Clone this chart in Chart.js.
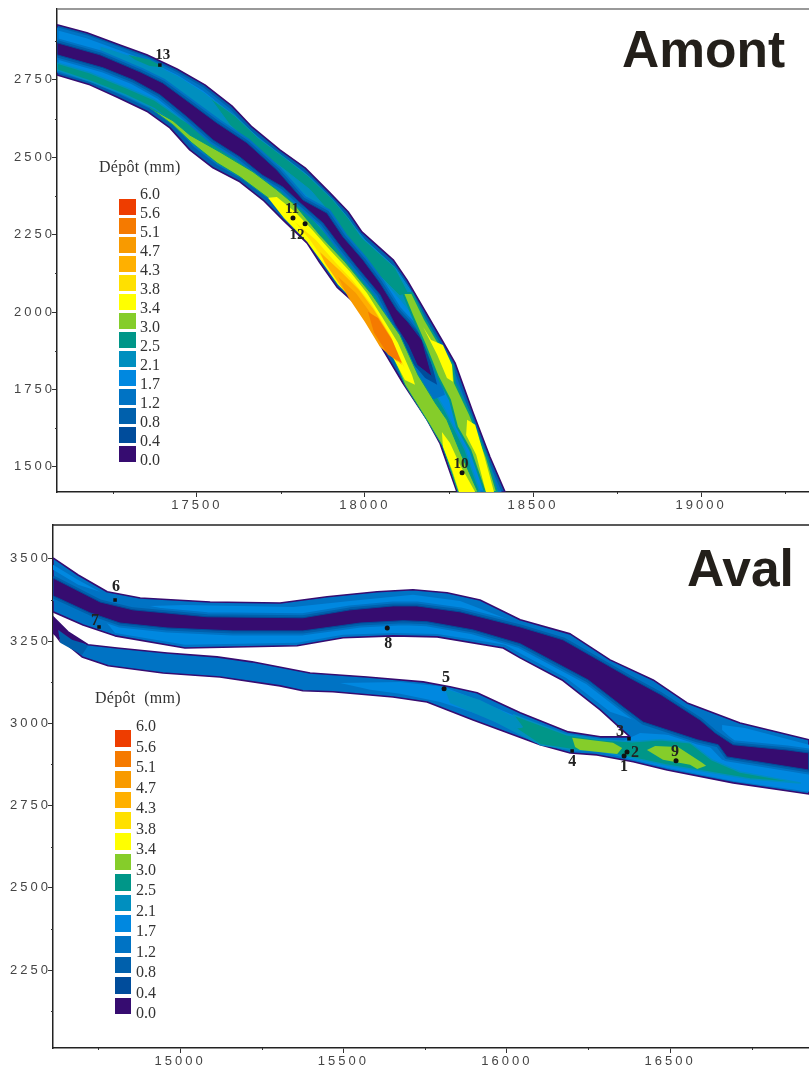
<!DOCTYPE html>
<html>
<head>
<meta charset="utf-8">
<title>Dépôt Amont / Aval</title>
<script src="https://cdn.jsdelivr.net/npm/chart.js@4/dist/chart.umd.js"></script>
<style>
  html, body { margin: 0; padding: 0; background: #fff; overflow: hidden; }
  #page { position: relative; width: 809px; height: 1068px; overflow: hidden; }
  canvas { position: absolute; left: 0; }
  .big { position: absolute; font: bold 51.5px "Liberation Sans", sans-serif; line-height: 1; color: #231f1a; }
  .legtitle { position: absolute; font: 16px "Liberation Serif", serif; letter-spacing: 0.3px; color: #333; white-space: pre; }
  .leglabel { position: absolute; font: 16px "Liberation Serif", serif; line-height: 16px; color: #333; }
  .swatch { position: absolute; }
</style>
</head>
<body>
<div id="page">
  <canvas id="amont" width="813" height="515" style="top:0"></canvas>
  <canvas id="aval" width="813" height="553" style="top:515px"></canvas>
</div>
<script>
// legend
const legendLabels = ['6.0','5.6','5.1','4.7','4.3','3.8','3.4','3.0','2.5','2.1','1.7','1.2','0.8','0.4','0.0'];
const legendColors = ['#ee3d00','#f57a00','#f89a00','#ffb000','#ffe000','#ffff00','#85cd2a','#009688','#008fbf','#0088e0','#0073c4','#0060ac','#004c9b','#360c70'];

// axes
const amontXTicks = [17500, 18000, 18500, 19000];
const amontXMinor = [17250, 17750, 18250, 18750, 19250];
const amontYTicks = [1500, 1750, 2000, 2250, 2500, 2750];
const amontYMinor = [1625, 1875, 2125, 2375, 2625, 2875];
const avalXTicks = [15000, 15500, 16000, 16500];
const avalXMinor = [14750, 15250, 15750, 16250, 16750];
const avalYTicks = [2250, 2500, 2750, 3000, 3250, 3500];
const avalYMinor = [2125, 2375, 2625, 2875, 3125, 3375];

// stations
const amontNames = ['13', '11', '12', '10'];
const amontStationX = [17390, 17786, 17822, 18289];
const amontStationY = [2798, 2304, 2285, 1481];
const avalNames = ['1', '2', '3', '4', '5', '6', '7', '8', '9'];
const avalStationX = [16359, 16368, 16374, 16200, 15808, 14801, 14752, 15634, 16518];
const avalStationY = [2901, 2913, 2953, 2916, 3105, 3375, 3293, 3290, 2886];

// Amont contours, [x, y] in site metres
const amontBanks = [[17084,2928],[17173,2902],[17271,2863],[17351,2831],[17441,2785],[17524,2734],[17604,2666],[17664,2598],[17747,2524],[17822,2466],[17896,2385],[17950,2324],[17991,2259],[18084,2169],[18125,2104],[18229,1910],[18268,1836],[18322,1674],[18372,1532],[18417,1419],
  [18274,1419],[18223,1577],[18185,1652],[18113,1771],[18054,1878],[18006,1975],[17976,2023],[17917,2081],[17866,2159],[17828,2223],[17756,2298],[17697,2362],[17628,2421],[17548,2466],[17479,2524],[17420,2595],[17354,2647],[17262,2695],[17182,2734],[17084,2766]];
const amontLight = [[17084,2915],[17173,2889],[17271,2850],[17351,2818],[17435,2773],[17518,2721],[17596,2653],[17655,2585],[17738,2511],[17813,2453],[17887,2372],[17938,2311],[17979,2246],[18072,2156],[18113,2091],[18217,1901],[18256,1826],[18310,1668],[18360,1526],[18402,1419],
  [18289,1419],[18238,1584],[18200,1658],[18128,1778],[18069,1884],[18021,1981],[17991,2033],[17932,2091],[17881,2169],[17843,2233],[17771,2308],[17712,2372],[17643,2430],[17563,2479],[17494,2537],[17435,2608],[17366,2660],[17271,2708],[17188,2747],[17084,2779]];
const amontUpperCyan = [[17212,2860],[17360,2808],[17444,2763],[17524,2708],[17604,2637],[17673,2566],[17762,2492],[17837,2434],[17911,2353],[17956,2291],[18000,2233],[18090,2143],[18134,2072],[18179,1975],[18200,1910],
  [18104,2039],[18030,2130],[17941,2233],[17896,2298],[17822,2379],[17747,2453],[17658,2530],[17584,2601],[17494,2679],[17405,2744],[17301,2795],[17212,2840]];
const amontUpperTealA = [[17295,2831],[17360,2815],[17405,2789],[17360,2795],[17316,2815]];
const amontUpperTealB = [[17539,2692],[17613,2634],[17682,2563],[17762,2498],[17831,2440],[17905,2362],[17950,2304],[17991,2240],[18090,2143],[18128,2065],[18104,2052],[18021,2143],[17956,2211],[17920,2291],[17837,2395],[17762,2459],[17673,2530],[17598,2605]];
const amontRightGreen = [[18113,2062],[18140,2062],[18179,1975],[18223,1894],[18262,1829],[18268,1771],[18313,1668],[18363,1529],[18393,1419],[18357,1419],[18313,1555],[18274,1629],[18253,1716],[18217,1791],[18179,1894],[18140,1991]];
const amontRightYellowA = [[18173,1952],[18197,1910],[18232,1894],[18259,1829],[18262,1775],[18244,1787],[18215,1862]];
const amontRightYellowB = [[18304,1652],[18328,1636],[18354,1539],[18384,1419],[18360,1419],[18331,1539],[18301,1603]];
const amontLowerTeal = [[17084,2805],[17182,2773],[17292,2724],[17375,2685],[17450,2627],[17509,2588],[17593,2530],[17688,2466],[17762,2404],[17807,2346],[17881,2259],[17941,2185],[18015,2088],[18090,1975],[18149,1846],[18194,1765],[18238,1684],[18298,1555],[18342,1419],
  [18298,1419],[18253,1571],[18215,1636],[18140,1765],[18081,1878],[18030,1975],[18000,2030],[17941,2088],[17890,2169],[17851,2233],[17777,2304],[17717,2369],[17643,2430],[17569,2482],[17494,2543],[17435,2608],[17375,2656],[17286,2702],[17188,2744],[17084,2782]];
const amontLowerGreen = [[17360,2660],[17429,2618],[17479,2572],[17569,2517],[17667,2453],[17738,2395],[17792,2346],[17866,2249],[17941,2162],[18021,2056],[18104,1926],[18158,1797],[18209,1707],[18244,1652],[18283,1549],[18336,1419],
  [18277,1419],[18232,1565],[18188,1645],[18119,1765],[18075,1878],[18027,1975],[17997,2027],[17938,2088],[17887,2169],[17848,2233],[17771,2308],[17712,2369],[17628,2437],[17560,2482],[17485,2547],[17429,2605]];
const amontYellowA = [[17712,2369],[17738,2372],[17792,2324],[17843,2266],[17896,2201],[17956,2130],[18006,2062],[18051,1984],[18098,1901],[18140,1797],[18149,1765],[18119,1781],[18075,1871],[18021,1959],[17979,2023],[17920,2088],[17872,2162],[17828,2227],[17759,2304]];
const amontYellowB = [[18229,1613],[18253,1577],[18283,1506],[18328,1419],[18280,1419],[18259,1490],[18232,1565]];
const amontGold = [[17792,2291],[17854,2233],[17911,2162],[17962,2104],[18021,2023],[18075,1926],[18119,1819],[18090,1871],[18039,1942],[17991,2017],[17935,2081],[17881,2162],[17837,2233]];
const amontAmber = [[17866,2194],[17929,2130],[17982,2072],[18027,2007],[18078,1917],[18110,1829],[18069,1871],[18021,1949],[17979,2020],[17932,2078],[17881,2159]];
const amontOrange = [[17920,2114],[17973,2062],[18021,1991],[18069,1910],[18098,1839],[18045,1887],[18000,1968],[17950,2049]];
const amontDeepOrange = [[18009,2001],[18039,1981],[18081,1910],[18110,1836],[18069,1862],[18027,1933]];
const amontBlobOuter = [[18113,2001],[18188,1926],[18238,1733],[18200,1716],[18149,1797],[18095,1910]];
const amontBlobInner = [[18119,1981],[18179,1910],[18215,1765],[18179,1787],[18134,1846],[18104,1910]];
const amontChannel = [[17084,2870],[17212,2831],[17331,2776],[17399,2740],[17479,2676],[17560,2611],[17649,2547],[17738,2459],[17816,2362],[17887,2320],[17935,2243],[17994,2169],[18045,2094],[18095,2007],[18128,1968],[18170,1910],[18200,1791],
  [18155,1829],[18128,1894],[18090,1959],[18045,2056],[17976,2146],[17920,2223],[17875,2288],[17807,2353],[17756,2404],[17694,2443],[17628,2501],[17548,2556],[17471,2630],[17390,2702],[17310,2750],[17221,2789],[17084,2831]];

// Aval contours
const avalBanks = [[14611,3503],[14688,3451],[14777,3400],[14878,3381],[15092,3369],[15306,3366],[15450,3385],[15603,3400],[15713,3406],[15817,3397],[15918,3375],[16041,3315],[16194,3272],[16316,3193],[16448,3132],[16552,3062],[16714,3001],[16925,2950],
  [16925,2785],[16693,2819],[16491,2858],[16387,2883],[16276,2904],[16194,2910],[16102,2935],[15980,2980],[15897,3010],[15756,3065],[15652,3080],[15468,3096],[15376,3099],[15306,3114],[15122,3141],[14948,3153],[14780,3175],[14700,3202],[14611,3275],
  [14611,3324],[14657,3278],[14718,3239],[14807,3229],[14960,3214],[15113,3202],[15220,3187],[15398,3153],[15572,3141],[15744,3126],[15826,3111],[15909,3093],[16041,3032],[16188,2974],[16286,2959],[16377,2959],
  [16286,3041],[16169,3132],[16041,3199],[15989,3229],[15787,3263],[15652,3266],[15499,3260],[15358,3236],[15015,3229],[14801,3266],[14703,3299],[14611,3339]];
const avalNorthUpper = [[14908,3357],[15015,3360],[15346,3354],[15520,3372],[15713,3391],[15857,3372],[16041,3302],[16286,3181],[16439,3102],[16506,3062],[16439,3071],[16163,3223],[15857,3315],[15673,3339],[15367,3299],[15015,3335]];
const avalNorthLower = [[14755,3330],[14960,3284],[15376,3299],[15683,3321],[16041,3266],[16286,3102],[16408,3004],[16316,3035],[16182,3138],[16050,3208],[15995,3239],[15787,3272],[15652,3275],[15499,3269],[15358,3245],[15015,3239],[14801,3275]];
const avalUpperWedge = [[14611,3482],[14688,3436],[14755,3400],[14688,3421],[14611,3467]];
const avalSouthDark = [[14627,3284],[14663,3260],[14718,3236],[14700,3208],[14633,3245]];
const avalSouthPurple = [[14611,3324],[14657,3278],[14718,3239],[14669,3254],[14627,3284],[14633,3245],[14611,3275]];
const avalSouthLight = [[15490,3123],[15673,3126],[15805,3111],[15888,3080],[16041,3016],[16178,2962],[16071,2956],[15918,3026],[15796,3065],[15673,3090],[15582,3102]];
const avalSouthCyan = [[15811,3105],[15918,3071],[16041,3010],[16178,2959],[16163,2931],[16087,2941],[15964,3004],[15826,3062],[15817,3087]];
const avalJoinLight = [[16408,2971],[16592,2959],[16659,2889],[16925,2846],[16925,2792],[16693,2825],[16491,2864],[16387,2889],[16286,2913]];
const avalTeal = [[16019,3026],[16184,2965],[16286,2950],[16384,2944],[16469,2950],[16561,2941],[16628,2889],[16714,2852],[16898,2819],[16745,2831],[16485,2874],[16387,2895],[16286,2916],[16209,2919],[16102,2935],[16025,2986],[16047,2989]];
const avalGreenWest = [[16200,2956],[16325,2941],[16353,2925],[16338,2907],[16224,2919],[16209,2928]];
const avalGreenEast = [[16429,2919],[16454,2931],[16524,2928],[16598,2880],[16610,2871],[16583,2861],[16561,2874],[16478,2889]];
const avalRightLight = [[16659,2995],[16729,2986],[16925,2935],[16925,2919],[16858,2928],[16699,2944],[16659,2980]];
const avalChannel = [[14611,3442],[14755,3369],[14856,3345],[15083,3324],[15376,3321],[15520,3345],[15652,3357],[15725,3357],[15857,3339],[16041,3293],[16172,3254],[16377,3138],[16472,3087],[16592,3010],[16638,2971],[16693,2935],[16858,2919],[16925,2910],
  [16925,2858],[16674,2898],[16647,2935],[16583,2950],[16417,3004],[16356,3050],[16249,3132],[16041,3242],[15897,3284],[15756,3309],[15683,3312],[15551,3305],[15376,3281],[15162,3281],[14960,3290],[14816,3305],[14724,3336],[14611,3388]];

const C = { purple:'#360c70', b04:'#004c9b', b08:'#0060ac', b12:'#0073c4', b17:'#0088e0', b21:'#008fbf',
  teal:'#009688', green:'#85cd2a', yellow:'#ffff00', gold:'#ffe000', amber:'#ffb000', orange:'#f89a00', deep:'#f57a00' };

function poly(points, color, stroke, width) {
  return {
    data: points.concat([points[0]]).map(function(p) { return {x: p[0], y: p[1]} }),
    showLine: true,
    fill: 'shape',
    backgroundColor: color,
    borderColor: stroke || color,
    borderWidth: width || 0,
    borderJoinStyle: 'round',
    pointRadius: 0
  }
}

function stations(names, xs, ys, squares) {
  return {
    data: names.map(function(n, i) { return {x: xs[i], y: ys[i]} }),
    showLine: false,
    backgroundColor: '#111',
    borderWidth: 0,
    pointRadius: 2.5,
    pointStyle: function(ctx) { return squares.indexOf(names[ctx.dataIndex]) >= 0 ? 'rect' : 'circle' }
  }
}

// bottom to top, Chart.js paints the first dataset last so the list is reversed below
const amontLayers = [
  poly(amontBanks, C.b08, C.purple, 1.6),
  poly(amontLight, C.b17, C.b12, 3),
  poly(amontUpperCyan, C.b21, C.b17, 1),
  poly(amontUpperTealA, C.teal),
  poly(amontUpperTealB, C.teal, C.b21, 1),
  poly(amontLowerTeal, C.teal, C.b21, 1.5),
  poly(amontBlobOuter, C.b12),
  poly(amontChannel, C.b12, C.b12, 9),
  poly(amontChannel, C.b08, C.b08, 5),
  poly(amontBlobInner, C.b04),
  poly(amontChannel, C.purple, C.b04, 1),
  poly(amontRightGreen, C.green, C.teal, 2),
  poly(amontLowerGreen, C.green, C.teal, 1),
  poly(amontYellowA, C.yellow),
  poly(amontYellowB, C.yellow),
  poly(amontRightYellowA, C.yellow),
  poly(amontRightYellowB, C.yellow),
  poly(amontGold, C.gold),
  poly(amontAmber, C.amber),
  poly(amontOrange, C.orange),
  poly(amontDeepOrange, C.deep),
  stations(amontNames, amontStationX, amontStationY, ['13'])
];

const avalLayers = [
  poly(avalBanks, C.b12, C.purple, 1.6),
  poly(avalNorthUpper, C.b17),
  poly(avalNorthLower, C.b17),
  poly(avalUpperWedge, C.b17),
  poly(avalSouthDark, C.b08),
  poly(avalSouthPurple, C.purple),
  poly(avalSouthLight, C.b17),
  poly(avalSouthCyan, C.b21),
  poly(avalJoinLight, C.b17),
  poly(avalRightLight, C.b17),
  poly(avalChannel, C.b12, C.b12, 9),
  poly(avalChannel, C.b08, C.b08, 5),
  poly(avalChannel, C.purple, C.b04, 1),
  poly(avalTeal, C.teal, C.b21, 1.5),
  poly(avalGreenWest, C.green),
  poly(avalGreenEast, C.green),
  stations(avalNames, avalStationX, avalStationY, ['3', '4', '6', '7'])
];

// wide tick text, minor ticks, top frame line and the numbers next to the stations
const mapExtras = {
  id: 'mapExtras',
  beforeLayout: function(chart) {
    chart.ctx.letterSpacing = '3px';
  },
  beforeDraw: function(chart) {
    chart.ctx.letterSpacing = '3px';
  },
  afterDatasetsDraw: function(chart, args, opts) {
    const ctx = chart.ctx, area = chart.chartArea, x = chart.scales.x, y = chart.scales.y;
    ctx.save();
    ctx.letterSpacing = '0px';
    ctx.strokeStyle = '#333';
    ctx.lineWidth = 1;
    opts.minorX.forEach(function(v) {
      const px = Math.round(x.getPixelForValue(v)) + 0.5;
      if (px > area.right) return;
      ctx.beginPath(); ctx.moveTo(px, area.bottom); ctx.lineTo(px, area.bottom + 2); ctx.stroke();
    });
    opts.minorY.forEach(function(v) {
      const py = Math.round(y.getPixelForValue(v)) + 0.5;
      ctx.beginPath(); ctx.moveTo(area.left, py); ctx.lineTo(area.left - 2, py); ctx.stroke();
    });
    ctx.strokeStyle = opts.frameColor;
    ctx.lineWidth = 1.5;
    ctx.beginPath(); ctx.moveTo(area.left, area.top); ctx.lineTo(area.right, area.top); ctx.stroke();
    ctx.fillStyle = '#222';
    ctx.font = 'bold ' + opts.labelSize + 'px "Liberation Serif", serif';
    ctx.textAlign = 'center';
    ctx.textBaseline = 'middle';
    const pts = chart.getDatasetMeta(0).data;
    opts.names.forEach(function(n, i) {
      ctx.fillText(n, pts[i].x + opts.offsets[i][0], pts[i].y + opts.offsets[i][1]);
    });
    ctx.restore();
  }
};

function axis(position, min, max, ticks, size) {
  return {
    type: 'linear',
    position: position,
    min: min,
    max: max,
    afterBuildTicks: function(scale) { scale.ticks = ticks.map(function(v) { return {value: v} }) },
    afterFit: function(scale) {
      if (position === 'left') scale.width = size; else scale.height = size;
      scale.paddingLeft = scale.paddingRight = scale.paddingTop = scale.paddingBottom = 0;
    },
    border: {color: '#222', width: 1.5},
    grid: {display: true, drawOnChartArea: false, drawTicks: true, tickLength: 5, tickColor: '#333', tickWidth: 1},
    ticks: {
      color: '#444',
      padding: position === 'left' ? -3 : 1,
      maxRotation: 0,
      autoSkip: false,
      font: {family: '"Liberation Sans", sans-serif', size: 13},
      callback: function(v) { return String(v) }
    }
  }
}

function makeMap(id, layers, xAxis, yAxis, top, extras) {
  return new Chart(document.getElementById(id), {
    type: 'scatter',
    data: {datasets: layers.slice().reverse()},
    options: {
      responsive: false,
      animation: false,
      layout: {padding: {top: top, left: 0, right: 0, bottom: 0}},
      scales: {x: xAxis, y: yAxis},
      plugins: {legend: {display: false}, tooltip: {enabled: false}, mapExtras: extras}
    },
    plugins: [mapExtras]
  });
}

makeMap('amont', amontLayers,
  axis('bottom', 17084, 19321, amontXTicks, 23),
  axis('left', 1419, 2979, amontYTicks, 57),
  9,
  {minorX: amontXMinor, minorY: amontYMinor, frameColor: '#777', names: amontNames, labelSize: 15,
   offsets: [[3,-10],[-1,-9],[-8,11],[-1,-9]]});

makeMap('aval', avalLayers,
  axis('bottom', 14611, 16925, avalXTicks, 20),
  axis('left', 2013, 3603, avalYTicks, 53),
  10,
  {minorX: avalXMinor, minorY: avalYMinor, frameColor: '#222', names: avalNames, labelSize: 16,
   offsets: [[0,11],[8,1],[-9,-7],[0,11],[2,-11],[1,-13],[-4,-6],[1,16],[-1,-9]]});

// titles and the two colour legends
const page = document.getElementById('page');
function addText(cls, text, left, top) {
  const d = document.createElement('div');
  d.className = cls;
  d.textContent = text;
  d.style.left = left + 'px';
  d.style.top = top + 'px';
  page.appendChild(d);
  return d;
}
function addLegend(title, titleX, titleY, boxX, boxY, boxW, boxH, boxStep, textX, textY, textStep) {
  addText('legtitle', title, titleX, titleY);
  legendColors.forEach(function(c, i) {
    const s = document.createElement('div');
    s.className = 'swatch';
    s.style.cssText = 'left:' + boxX + 'px;top:' + (boxY + boxStep * i) + 'px;width:' + boxW + 'px;height:' + boxH + 'px;background:' + c;
    page.appendChild(s);
  });
  legendLabels.forEach(function(t, i) {
    addText('leglabel', t, textX, textY + textStep * i - 8);
  });
}
addText('big', 'Amont', 622, 24);
addText('big', 'Aval', 687, 543);
addLegend('Dépôt (mm)', 99, 158, 119, 199, 17, 15.5, 19, 140, 194, 19);
addLegend('Dépôt  (mm)', 95, 689, 115, 730, 16, 16.5, 20.6, 136, 726, 20.5);
</script>
</body>
</html>
